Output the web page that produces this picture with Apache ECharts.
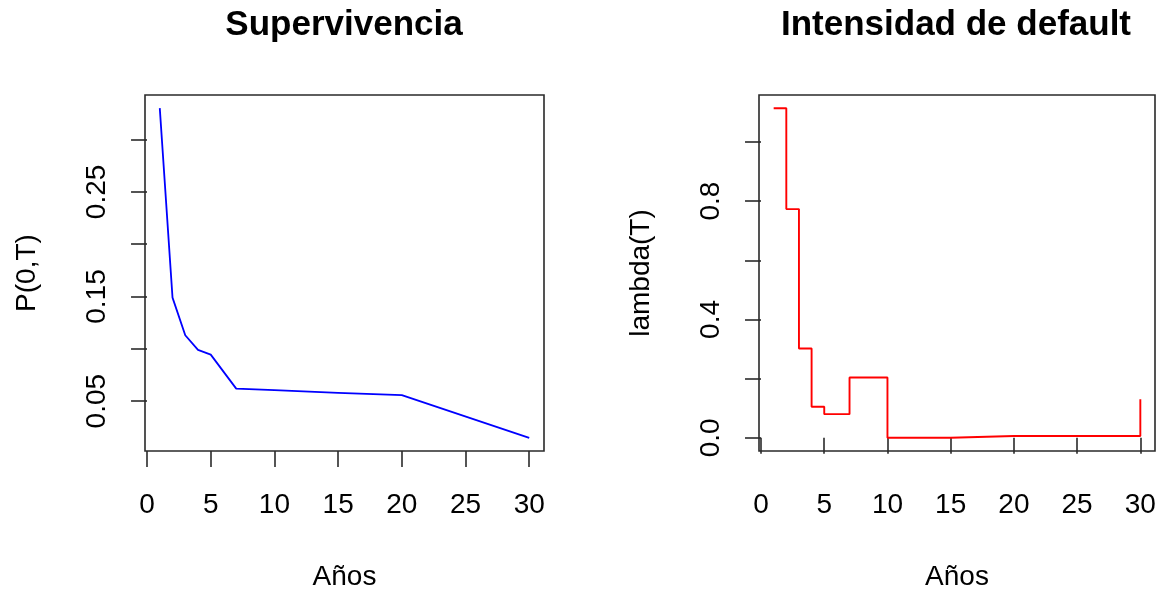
<!DOCTYPE html>
<html>
<head>
<meta charset="utf-8">
<script src="https://cdn.jsdelivr.net/npm/echarts@6/dist/echarts.min.js"></script>
<style>
  html, body { margin: 0; padding: 0; background: #fff; }
  #chart { width: 1166px; height: 596px; }
</style>
</head>
<body>
<div id="chart"></div>
<script>
// Maturities (years) and the curves evaluated at them
const tenors = [1, 2, 3, 4, 5, 7, 10, 15, 20, 30];
const survival = [0.330, 0.149, 0.113, 0.099, 0.0945, 0.062, 0.0605, 0.058, 0.0557, 0.015];
const hazard = [1.114, 0.773, 0.302, 0.105, 0.080, 0.204, 0.000, 0.006, 0.006, 0.130];

// Tick positions and the subset of them that carry a label
const xTicks = [0, 5, 10, 15, 20, 25, 30];
const survivalTicks = [0.05, 0.10, 0.15, 0.20, 0.25, 0.30];
const survivalTickLabels = [0.05, 0.15, 0.25];
const hazardTicks = [0, 0.2, 0.4, 0.6, 0.8, 1.0];
const hazardTickLabels = [0, 0.4, 0.8];

const titles = ['Supervivencia', 'Intensidad de default'];
const xName = 'Años';
const yNames = ['P(0,T)', 'lambda(T)'];

// Axis limits padded by 4% of the data range on each side
function padRange(vals) {
  const lo = Math.min(...vals), hi = Math.max(...vals), d = (hi - lo) * 0.04;
  return [lo - d, hi + d];
}
const xr = padRange(tenors);
const yrLeft = padRange(survival);
const yrRight = padRange(hazard);

const FONT = 'Liberation Sans';
const INK = '#000';
const FRAME = '#2a2a2a';
const axisText = { fontFamily: FONT, fontSize: 28, color: INK };
const tickStyle = { color: FRAME, width: 1.6 };

function xAxisCfg(gridIndex) {
  return {
    type: 'value', gridIndex: gridIndex, min: xr[0], max: xr[1],
    axisLine: { show: false },
    splitLine: { show: false },
    axisTick: { show: true, customValues: xTicks, length: 16, lineStyle: tickStyle },
    axisLabel: Object.assign({ show: true, customValues: xTicks, margin: 40 }, axisText),
    name: xName, nameLocation: 'middle', nameGap: 112,
    nameTextStyle: axisText
  };
}

function yAxisCfg(gridIndex, range, ticks, labels, digits, name) {
  return {
    type: 'value', gridIndex: gridIndex, min: range[0], max: range[1],
    axisLine: { show: false },
    splitLine: { show: false },
    axisTick: { show: true, customValues: ticks, length: 16, lineStyle: tickStyle },
    axisLabel: Object.assign({
      show: true, customValues: labels, rotate: 90, margin: 34,
      formatter: function (v) { return v.toFixed(digits); }
    }, axisText),
    name: name, nameLocation: 'middle', nameGap: 104,
    nameTextStyle: axisText
  };
}

const chart = echarts.init(document.getElementById('chart'), null, { renderer: 'canvas' });
chart.setOption({
  backgroundColor: '#fff',
  animation: false,
  title: [
    { text: titles[0], left: 344, top: 8, textAlign: 'center', padding: 0,
      textStyle: { fontFamily: FONT, fontWeight: 'bold', fontSize: 35, color: INK } },
    { text: titles[1], left: 956, top: 8, textAlign: 'center', padding: 0,
      textStyle: { fontFamily: FONT, fontWeight: 'bold', fontSize: 35, color: INK } }
  ],
  grid: [
    { left: 145, top: 95, width: 399, height: 356, containLabel: false, show: true,
      borderColor: FRAME, borderWidth: 1.6, backgroundColor: 'transparent' },
    { left: 759, top: 95, width: 396, height: 356, containLabel: false, show: true,
      borderColor: FRAME, borderWidth: 1.6, backgroundColor: 'transparent' }
  ],
  xAxis: [xAxisCfg(0), xAxisCfg(1)],
  yAxis: [
    yAxisCfg(0, yrLeft, survivalTicks, survivalTickLabels, 2, yNames[0]),
    yAxisCfg(1, yrRight, hazardTicks, hazardTickLabels, 1, yNames[1])
  ],
  series: [
    {
      type: 'line', xAxisIndex: 0, yAxisIndex: 0, showSymbol: false, symbol: 'none',
      data: tenors.map((t, i) => [t, survival[i]]),
      lineStyle: { color: '#0000ff', width: 1.8 }, silent: true
    },
    {
      type: 'line', xAxisIndex: 1, yAxisIndex: 1, showSymbol: false, symbol: 'none', step: 'end',
      data: tenors.map((t, i) => [t, hazard[i]]),
      lineStyle: { color: '#ff0000', width: 1.9 }, silent: true
    }
  ]
});
</script>
</body>
</html>
